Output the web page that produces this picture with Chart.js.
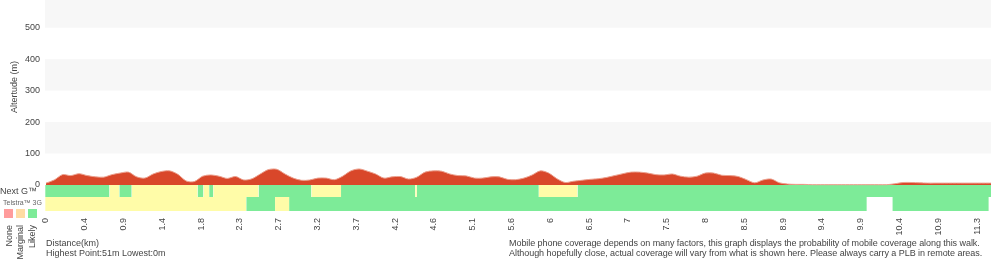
<!DOCTYPE html>
<html>
<head>
<meta charset="utf-8">
<script src="https://cdn.jsdelivr.net/npm/chart.js@4.4.0/dist/chart.umd.min.js"></script>
<style>
  body { margin: 0; background: #fff; }
  #wrap { position: relative; width: 1000px; height: 260px; overflow: hidden;
          font-family: "Liberation Sans", Arial, sans-serif; color: #444; }
  #wrap canvas { position: absolute; left: 0; top: 0; }
  .lbl { position: absolute; font-size: 9px; line-height: 9px; white-space: nowrap; }
  .rot { transform-origin: 0 0; transform: rotate(-90deg); width: 40px; text-align: right; }
  .sw { position: absolute; top: 209px; width: 9px; height: 9px; }
  .nota { letter-spacing: -0.06px; }
</style>
</head>
<body>
<div id="wrap">
  <canvas id="chart-altitud" width="1000" height="260"></canvas>

  <div class="lbl rot" style="left:10px; top:113px; width:52px; text-align:center;">Altertude (m)</div>
  <div class="lbl" style="left:0px; top:187px;">Next G™</div>
  <div class="lbl" style="left:3px; top:199px; font-size:7px; line-height:7px; color:#666;">Telstra™ 3G</div>
  <div class="sw" style="left:4px; background:#ff9c9c;"></div>
  <div class="sw" style="left:16px; background:#ffdca3;"></div>
  <div class="sw" style="left:28px; background:#7deb98;"></div>
  <div class="lbl rot" style="left:4.5px; top:265px;">None</div>
  <div class="lbl rot" style="left:15.5px; top:265px;">Marginal</div>
  <div class="lbl rot" style="left:27.5px; top:265px;">Likely</div>

  <div class="lbl" style="left:46px; top:239px;">Distance(km)</div>
  <div class="lbl" style="left:46px; top:249px;">Highest Point:51m Lowest:0m</div>
  <div class="lbl nota" style="left:509px; top:239px;">Mobile phone coverage depends on many factors, this graph displays the probability of mobile coverage along this walk.</div>
  <div class="lbl nota" style="left:509px; top:249px;">Although hopefully close, actual coverage will vary from what is shown here. Please always carry a PLB in remote areas.</div>
</div>

<script>
/* Datos del perfil */
var elevStepKm = 0.1;
var elevation = [
  6, 16, 33, 30, 36, 30, 26, 25, 33, 38,
  41, 26, 22, 35, 43, 45, 34, 13, 11, 28,
  32, 28, 21, 27, 16, 20, 35, 49, 50, 35,
  22, 15, 16, 22, 22, 17, 28, 45, 51, 44,
  35, 22, 26, 27, 19, 25, 41, 45, 44, 35,
  30, 29, 22, 22, 26, 26, 18, 17, 22, 32,
  45, 38, 20, 8, 12, 15, 18, 20, 24, 30,
  36, 41, 41, 38, 33, 32, 35, 28, 25, 28,
  38, 38, 31, 30, 27, 17, 7, 16, 19, 7,
  3, 2, 2, 1, 1, 1, 1, 1, 1, 1,
  1, 1, 1, 4, 8, 8, 7, 6, 6, 6,
  6, 6, 6, 6, 6, 6
];

var distanceLabels = ["0", "0.4", "0.9", "1.4", "1.8", "2.3", "2.7", "3.2", "3.7", "4.2", "4.6", "5.1",
  "5.6", "6", "6.5", "7", "7.5", "8", "8.5", "8.9", "9.4", "9.9", "10.4", "10.9", "11.3"];
var tickStepKm = 0.4708;
var altitudeTicks = [0, 100, 200, 300, 400, 500];

/* Cobertura: cortes en km y nivel de cada tramo */
var nextGBreaks = [-0.01, 0.77, 0.89, 1.04, 1.84, 1.91, 1.98, 2.03, 2.58, 3.22, 3.58, 4.48, 4.50, 5.98, 6.45, 11.47];
var nextGLevels = ["likely", "marginal", "likely", "marginal", "likely", "marginal", "likely", "marginal",
  "likely", "marginal", "likely", "marginal", "likely", "marginal", "likely"];
var threeGBreaks = [-0.01, 2.43, 2.78, 2.95, 9.96, 10.27, 11.44];
var threeGLevels = ["marginal", "likely", "marginal", "likely", null, "likely"];

var colores = { likely: "#7deb98", marginal: "#fffca8", none: "#ff9c9c" };

var yMin = -82.6, yMax = 588, rowSplit = -38;
var xMin = -0.012, xMax = 11.467;

function tramos(breaks, levels, nivel, top, bottom) {
  var pts = [];
  for (let i = 0; i < levels.length; i++) {
    if (levels[i] !== nivel) continue;
    pts.push({ x: breaks[i], y: top });
    pts.push({ x: breaks[i + 1], y: top });
    pts.push({ x: breaks[i + 1], y: null });
  }
  return {
    type: "line",
    data: pts,
    fill: { value: bottom },
    backgroundColor: colores[nivel],
    borderWidth: 0,
    borderColor: "rgba(0,0,0,0)",
    pointRadius: 0,
    tension: 0,
    spanGaps: false
  };
}

var datasets = [{
  type: "line",
  data: elevation.map((v, i) => ({ x: i * elevStepKm, y: v })),
  fill: "origin",
  backgroundColor: "#d9472a",
  borderColor: "#eba08e",
  borderWidth: 1,
  pointRadius: 0,
  tension: 0.3
}];
["likely", "marginal", "none"].forEach(n => {
  datasets.push(tramos(nextGBreaks, nextGLevels, n, 0, rowSplit));
  datasets.push(tramos(threeGBreaks, threeGLevels, n, rowSplit, yMin));
});

// franjas grises cada 100 m
var bandas = {
  id: "bandas",
  beforeDraw(chart) {
    var ctx = chart.ctx, a = chart.chartArea, y = chart.scales.y;
    ctx.save();
    ctx.fillStyle = "#f7f7f7";
    [100, 300, 500].forEach(v => {
      var top = Math.max(y.getPixelForValue(v + 100), a.top);
      var bot = y.getPixelForValue(v);
      ctx.fillRect(a.left, top, a.right - a.left, bot - top);
    });
    ctx.restore();
  }
};

Chart.defaults.font.family = "'Liberation Sans', Arial, sans-serif";

var ctx = document.getElementById("chart-altitud").getContext("2d");
new Chart(ctx, {
  type: "line",
  data: { datasets: datasets },
  plugins: [bandas],
  options: {
    responsive: false,
    animation: false,
    layout: { padding: { left: 0, right: 9, top: 0, bottom: 0 } },
    plugins: {
      legend: { display: false },
      tooltip: { enabled: false }
    },
    scales: {
      x: {
        type: "linear",
        min: xMin,
        max: xMax,
        grid: { display: false, drawTicks: false },
        border: { display: false },
        afterBuildTicks: s => { s.ticks = distanceLabels.map((l, i) => ({ value: i * tickStepKm })); },
        ticks: {
          autoSkip: false,
          minRotation: 90,
          maxRotation: 90,
          padding: 7,
          color: "#444",
          font: { size: 9 },
          callback: (v, i) => distanceLabels[i]
        },
        afterFit: s => { s.height = 49; s.paddingLeft = 0; s.paddingRight = 0; }
      },
      y: {
        min: yMin,
        max: yMax,
        grid: { display: false, drawTicks: false },
        border: { display: false },
        afterBuildTicks: s => { s.ticks = altitudeTicks.map(v => ({ value: v })); },
        ticks: { padding: 5, color: "#444", font: { size: 9 } },
        afterFit: s => { s.width = 45; s.paddingTop = 0; s.paddingBottom = 0; }
      }
    }
  }
});
</script>
</body>
</html>
